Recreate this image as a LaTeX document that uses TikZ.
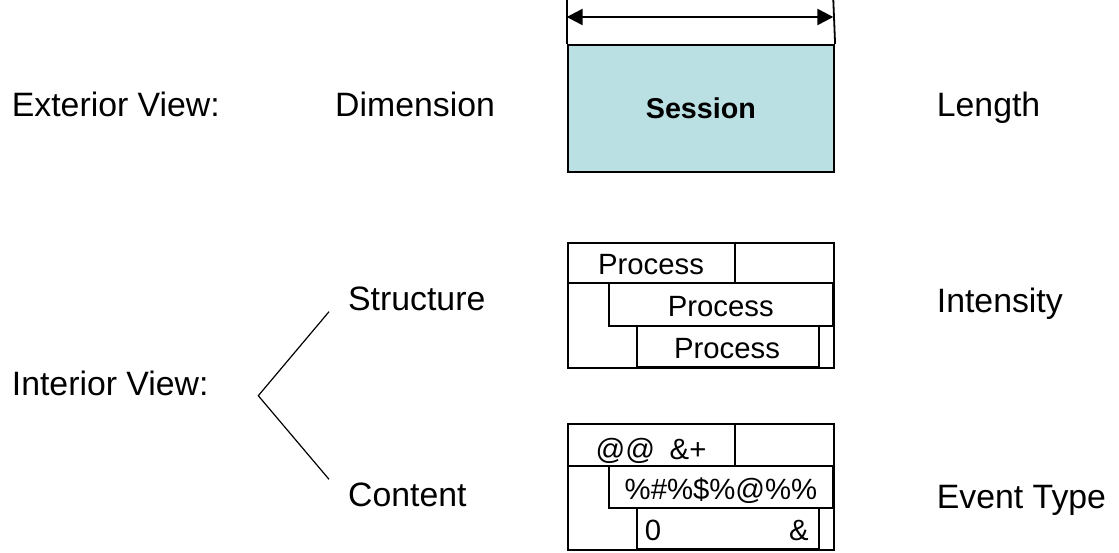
\documentclass[tikz,border=0pt]{standalone}
\usepackage{fontspec}
\setmainfont{Liberation Sans}
\usetikzlibrary{arrows.meta}
\definecolor{sessionfill}{HTML}{BBE0E3}
\tikzset{
  label/.style={anchor=base west, inner sep=0pt, font=\fontsize{33.8}{40}\selectfont},
  celltext/.style={anchor=base, inner sep=0pt, font=\fontsize{29.3}{34}\selectfont},
  frame/.style={draw, line width=1.8pt, inner sep=0pt, anchor=north west},
  grid/.style={line width=1.8pt},
  fork/.style={line width=1.2pt},
  dimtip/.tip={Triangle[length=16pt,width=16pt]},
}
\begin{document}
\begin{tikzpicture}[x=1pt, y=-1pt]
\useasboundingbox (0,0) rectangle (1119,552);

% ---- exterior view ----
\node[label] (ext) at (11.7,116) {Exterior View:};
\node[label] (dim) at (335,116) {Dimension};
\node[label] (len) at (936.7,116) {Length};

\node[frame, fill=sessionfill, minimum width=266.6pt, minimum height=127pt,
      font=\fontsize{28.7}{34}\selectfont\bfseries] (session) at (566.7,44) {Session};
\coordinate (extL) at (566.7,0);
\coordinate (extR) at (833.3,0);
\draw[grid] (extL) -- (session.north west);
\draw[grid] (extR) -- (session.north east);
\coordinate (arrL) at (566.7,17);
\coordinate (arrR) at (833.3,17);
\draw[line width=2.4pt, dimtip-dimtip] (arrL) -- (arrR);

% ---- interior view ----
\node[label] (int) at (11.7,395) {Interior View:};
\node[label] (struct) at (348,310.7) {Structure};
\node[label] (cont) at (348,506.7) {Content};
\node[label] (inten) at (936.7,312.3) {Intensity};
\node[label] (evt) at (936.7,508.3) {Event Type};

\coordinate (fork) at (258.3,395.7);
\coordinate (forkS) at (329,311.7);
\coordinate (forkC) at (329,479.3);
\draw[fork] (forkS) -- (fork) -- (forkC);

% structure grid
\node[frame, minimum width=266.6pt, minimum height=125.6pt] (sgrid) at (566.7,241.7) {};
\draw[grid] (566.7,282.7) -- (833.3,282.7);
\draw[grid] (735,241.7) -- (735,282.7);
\draw[grid] (609,282.7) rectangle (833.3,325.7);
\draw[grid] (636.7,325.7) rectangle (818.7,367.3);
\node[celltext] (p1) at (651,274) {Process};
\node[celltext] (p2) at (720.8,316.7) {Process};
\node[celltext] (p3) at (727,358.3) {Process};

% content grid
\node[frame, minimum width=266.6pt, minimum height=125.7pt] (cgrid) at (566.7,423.3) {};
\draw[grid] (566.7,465.7) -- (833.3,465.7);
\draw[grid] (735,423.3) -- (735,465.7);
\draw[grid] (609,465.7) rectangle (833.3,507.7);
\draw[grid] (636.7,507.7) rectangle (818.7,549);
\node[celltext] (c1) at (651,459) {@@\hspace{0.5em}\&+};
\node[celltext] (c2) at (721,499.5) {\%\#\%\$\%@\%\%};
\node[celltext] (c3a) at (653,540) {0};
\node[celltext] (c3b) at (799,540) {\&};
\end{tikzpicture}
\end{document}
